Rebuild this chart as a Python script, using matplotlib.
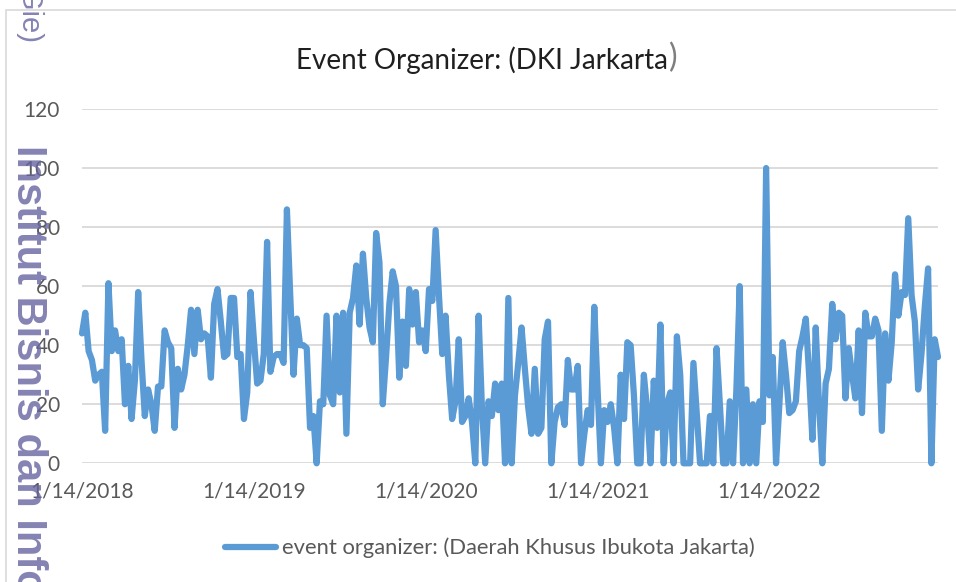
import matplotlib
matplotlib.use("Agg")
import matplotlib.pyplot as plt
from matplotlib.patches import Rectangle

plt.rcParams['font.family'] = ['Lato', 'DejaVu Sans']

# weekly interest values, starting 1/14/2018
values = [
    44, 51, 38, 35, 28, 30, 31, 11, 61, 38,
    45, 38, 42, 20, 33, 15, 28, 58, 35, 16,
    25, 20, 11, 26, 26, 45, 41, 39, 12, 32,
    25, 30, 40, 52, 37, 52, 42, 44, 43, 29,
    54, 59, 48, 36, 37, 56, 56, 36, 37, 15,
    24, 58, 42, 27, 28, 37, 75, 31, 36, 37,
    37, 34, 86, 57, 30, 49, 40, 40, 39, 12,
    16, 0, 21, 20, 50, 23, 20, 50, 24, 51,
    10, 51, 56, 67, 47, 71, 56, 46, 41, 78,
    68, 20, 36, 54, 65, 60, 29, 48, 33, 59,
    47, 58, 41, 45, 38, 59, 55, 79, 57, 37,
    50, 30, 15, 21, 42, 14, 16, 22, 14, 0,
    50, 19, 0, 21, 16, 27, 18, 27, 0, 56,
    0, 23, 34, 46, 32, 19, 10, 32, 10, 12,
    42, 48, 0, 14, 19, 20, 13, 35, 25, 25,
    33, 0, 10, 18, 13, 53, 25, 0, 18, 14,
    20, 12, 0, 30, 15, 41, 40, 23, 0, 0,
    30, 18, 0, 28, 12, 47, 0, 20, 24, 0,
    43, 30, 0, 0, 0, 34, 17, 0, 0, 0,
    16, 0, 39, 20, 0, 0, 21, 0, 25, 60,
    0, 25, 0, 20, 0, 21, 14, 100, 23, 36,
    0, 20, 41, 30, 17, 18, 21, 38, 43, 49,
    30, 8, 46, 20, 0, 27, 32, 54, 42, 51,
    50, 22, 39, 30, 22, 45, 17, 51, 43, 43,
    49, 45, 11, 44, 28, 41, 64, 50, 58, 57,
    83, 57, 48, 25, 37, 53, 66, 0, 42, 36,
]
tick_labels = ["1/14/2018", "1/14/2019", "1/14/2020", "1/14/2021", "1/14/2022"]
tick_weeks = [0, 52, 104, 156, 208]
y_ticks = [0, 20, 40, 60, 80, 100, 120]

title = "Event Organizer: (DKI Jarkarta"
series_name = "event organizer: (Daerah Khusus Ibukota Jakarta)"

W, H = 956, 582
fig = plt.figure(figsize=(W / 100, H / 100), dpi=100)
ax = fig.add_axes([82 / W, 1 - 463.3 / H, (938 - 82) / W, (463.3 - 109) / H])

weeks = list(range(len(values)))
line, = ax.plot(weeks, values, color='#5B9BD5', linewidth=4.5,
                solid_joinstyle='round', solid_capstyle='round', label=series_name,
                clip_on=False, zorder=3)

ax.set_xlim(0, len(values) - 1)
ax.set_ylim(0, 120)
ax.set_yticks(y_ticks)
ax.set_xticks(tick_weeks)
ax.set_xticklabels(tick_labels)
ax.grid(axis='y', color='#D9D9D9', linewidth=1.3)
ax.set_axisbelow(True)
for s in ax.spines.values():
    s.set_visible(False)
ax.tick_params(axis='both', length=0, labelsize=15, colors='#595959')
ax.tick_params(axis='y', pad=16)
ax.tick_params(axis='x', pad=13)

# title, closing bracket drawn separately like in the source
t = fig.text(296 / W, 1 - 60 / H, title, fontsize=20, color='#1f1f1f',
             ha='left', va='center')
fig.canvas.draw()
bb = t.get_window_extent()
fig.text(bb.x1 / W + 1 / W, 1 - 58 / H, ")", fontsize=23, color='#7f7f7f',
         ha='left', va='center')

fig.legend(handles=[line], loc='center', bbox_to_anchor=(490 / W, 1 - 548 / H),
           frameon=False, fontsize=15.8, handlelength=2.3, handletextpad=0.3,
           labelcolor='#595959')

# chart area border
fig.patches.append(Rectangle((6 / W, -0.1), 1.2, 1.1 - 10 / H, transform=fig.transFigure,
                             fill=False, edgecolor='#D9D9D9', linewidth=1.2))

# document watermark
fig.text(28 / W, 1 - 145 / H, "Institut Bisnis dan Informatika", rotation=-90,
         fontsize=30, fontweight='bold', family=['Liberation Sans', 'DejaVu Sans'],
         color='#6664A0', alpha=0.8, ha='left', va='center', rotation_mode='anchor')
fig.text(30 / W, 1 - 42 / H, "Kwik Kian Gie)", rotation=-90, fontsize=21,
         family=['Liberation Sans', 'DejaVu Sans'], color='#6664A0', alpha=0.8,
         ha='right', va='center', rotation_mode='anchor')

fig.savefig("out.png", dpi=100)
